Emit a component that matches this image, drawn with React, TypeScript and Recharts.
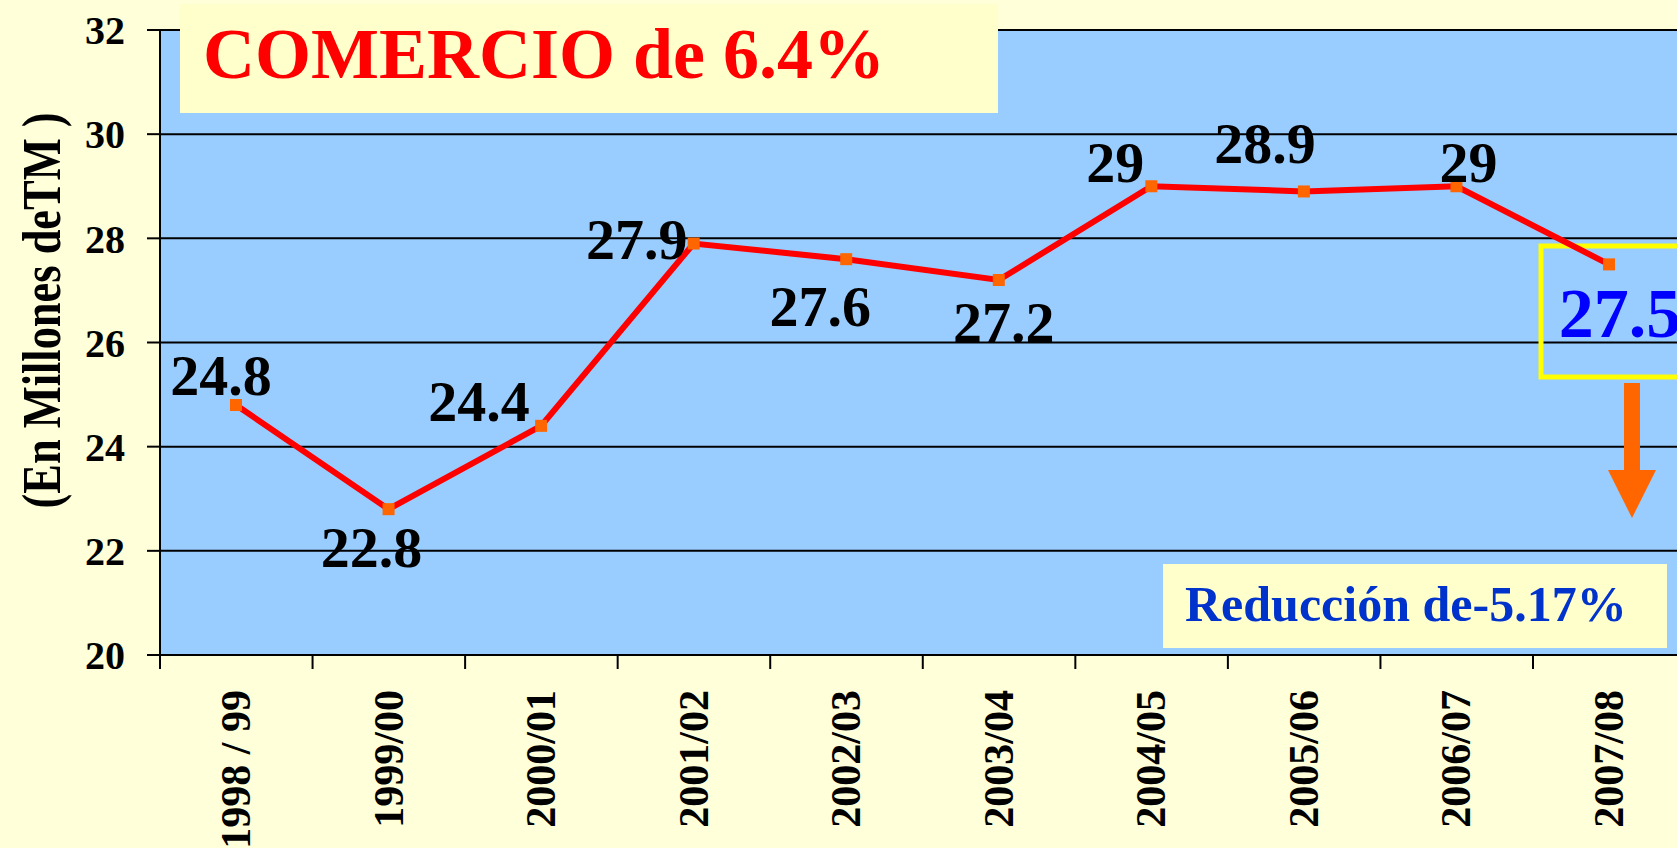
import React from 'react';
import {
  LineChart,
  Line,
  XAxis,
  YAxis,
  CartesianGrid
} from 'recharts';

// ============================================================================
// Data
// ============================================================================

const seasons = [
  '1998 / 99', '1999/00', '2000/01', '2001/02', '2002/03',
  '2003/04', '2004/05', '2005/06', '2006/07', '2007/08'
];

const tonnes = [24.8, 22.8, 24.4, 27.9, 27.6, 27.2, 29, 28.9, 29, 27.5];

const yTicks = [20, 22, 24, 26, 28, 30, 32];

const chartData = seasons.map((season, i) => ({ season, value: tonnes[i] }));

// ============================================================================
// Styling
// ============================================================================

const SERIF = '"Liberation Serif", "Times New Roman", serif';
const PAGE_BG = '#FFFFD9';
const BOX_BG = '#FFFFCC';
const PLOT_BG = '#99CCFF';
const HALF_BAND = 76;

// label placement relative to each point: [dx, baseline dy]
const labelOffsets: [number, number][] = [
  [-15, -10], [-17, 58], [-62, -5], [-57, 15], [-26, 67],
  [5, 62], [-36, -4], [-39, -28], [12, -4], [11, 73]
];

// ============================================================================
// Custom renderers
// ============================================================================

const SquareDot = (props: any) => {
  const { cx, cy, index } = props;
  if (cx == null || cy == null) return null;
  return <rect key={index} x={cx - 6} y={cy - 6} width={12} height={12} fill="#FF6600" />;
};

const PointLabel = (props: any) => {
  const { x, y, index, value } = props;
  const [dx, dy] = labelOffsets[index] || [0, -10];
  const last = index === tonnes.length - 1;
  return (
    <text
      x={x + dx}
      y={y + dy}
      textAnchor="middle"
      fontFamily={SERIF}
      fontWeight="bold"
      fontSize={last ? 70 : 58}
      fill={last ? '#0000FF' : '#000000'}
    >
      {value}
    </text>
  );
};

const SeasonTick = (props: any) => {
  const { x, y, payload } = props;
  return (
    <g>
      <line
        x1={x - HALF_BAND}
        x2={x - HALF_BAND}
        y1={y}
        y2={y + 14}
        stroke="#000"
        strokeWidth={2}
      />
      <text
        x={x + 14}
        y={y + 35}
        transform={`rotate(-90, ${x + 14}, ${y + 35})`}
        textAnchor="end"
        fontFamily={SERIF}
        fontWeight="bold"
        fontSize={42}
        fill="#000"
      >
        {payload.value}
      </text>
    </g>
  );
};

const YTitle = (props: any) => {
  const { viewBox } = props;
  const cx = viewBox.x + 60;
  const cy = viewBox.y + viewBox.height / 2 - 32;
  return (
    <text
      x={cx}
      y={cy}
      transform={`rotate(-90, ${cx}, ${cy})`}
      textAnchor="middle"
      fontFamily={SERIF}
      fontWeight="bold"
      fontSize={54}
      textLength={396}
      lengthAdjust="spacingAndGlyphs"
      fill="#000"
    >
      (En Millones deTM )
    </text>
  );
};

// ============================================================================
// Component
// ============================================================================

export default function App() {
  return (
    <div
      style={{
        position: 'relative',
        width: 1677,
        height: 848,
        overflow: 'hidden',
        background: PAGE_BG
      }}
    >
      <style>{'body{margin:0;overflow:hidden}'}</style>

      <LineChart
        width={1700}
        height={848}
        data={chartData}
        margin={{ top: 30, right: 15, bottom: 0, left: 0 }}
      >
        <CartesianGrid
          vertical={false}
          fill={PLOT_BG}
          fillOpacity={1}
          stroke="#000"
          strokeWidth={2}
        />

        <XAxis
          dataKey="season"
          height={193}
          interval={0}
          padding={{ left: HALF_BAND, right: HALF_BAND }}
          tickSize={0}
          tickMargin={0}
          tickLine={false}
          axisLine={{ stroke: '#000', strokeWidth: 2 }}
          tick={<SeasonTick />}
        />

        <YAxis
          width={160}
          domain={[20, 32]}
          ticks={yTicks}
          interval={0}
          tickSize={13}
          tickMargin={22}
          axisLine={{ stroke: '#000', strokeWidth: 2 }}
          tickLine={{ stroke: '#000', strokeWidth: 2 }}
          tick={{ fill: '#000', fontSize: 40, fontWeight: 'bold', fontFamily: SERIF }}
          label={<YTitle />}
        />

        {/* highlight box round the last value */}
        <rect x={1541} y={246} width={200} height={131} fill="none" stroke="#FFFF00" strokeWidth={5} />

        <Line
          type="linear"
          dataKey="value"
          stroke="#FF0000"
          strokeWidth={6}
          dot={<SquareDot />}
          activeDot={false}
          label={<PointLabel />}
          isAnimationActive={false}
        />
      </LineChart>

      {/* Title box */}
      <div
        style={{
          position: 'absolute',
          left: 180,
          top: 4,
          width: 818,
          height: 109,
          background: BOX_BG
        }}
      >
        <span
          style={{
            position: 'absolute',
            left: 23,
            top: 2,
            fontFamily: SERIF,
            fontWeight: 'bold',
            fontSize: 72,
            lineHeight: '96px',
            color: '#FF0000',
            whiteSpace: 'nowrap'
          }}
        >
          COMERCIO de 6.4%
        </span>
      </div>

      {/* Down arrow */}
      <svg
        width={60}
        height={140}
        style={{ position: 'absolute', left: 1602, top: 380 }}
      >
        <rect x={22} y={3} width={16} height={90} fill="#FF6600" />
        <polygon points="6,90 54,90 30,138" fill="#FF6600" />
      </svg>

      {/* Reduction note */}
      <div
        style={{
          position: 'absolute',
          left: 1163,
          top: 564,
          width: 504,
          height: 84,
          background: BOX_BG
        }}
      >
        <span
          style={{
            position: 'absolute',
            left: 22,
            top: 10,
            fontFamily: SERIF,
            fontWeight: 'bold',
            fontSize: 50,
            lineHeight: '60px',
            color: '#0033CC',
            whiteSpace: 'nowrap'
          }}
        >
          Reducción de-5.17%
        </span>
      </div>
    </div>
  );
}
